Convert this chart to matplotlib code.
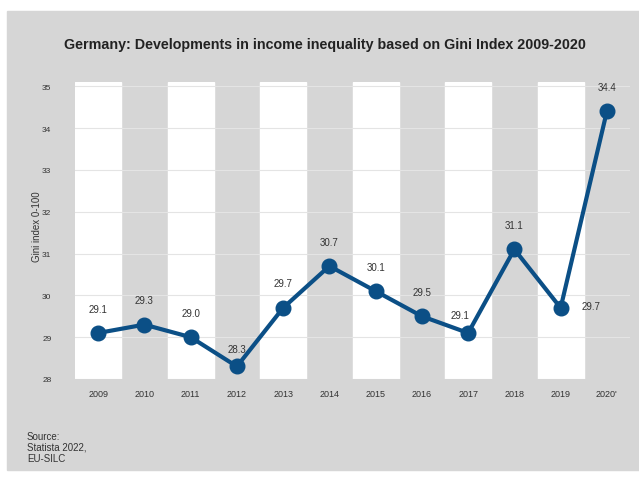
import numpy as np
import matplotlib
matplotlib.use('Agg')
from matplotlib import pyplot as plt
from matplotlib.patches import Rectangle

plt.rcParams['font.family'] = ['Liberation Sans', 'DejaVu Sans']

years = ['2009', '2010', '2011', '2012', '2013', '2014', '2015', '2016',
         '2017', '2018', '2019', '2020\'']
gini = [29.1, 29.3, 29.0, 28.3, 29.7, 30.7, 30.1, 29.5, 29.1, 31.1, 29.7, 34.4]
yticks = [28, 29, 30, 31, 32, 33, 34, 35]

bg = '#d6d6d6'
blue = '#0b4f86'

fig = plt.figure(figsize=(6.39, 4.81), dpi=100)
fig.patches.append(Rectangle((7 / 639, 1 - 471 / 481), 1, 459 / 481,
                             transform=fig.transFigure, color=bg, zorder=-5))

ax = fig.add_axes([75 / 639, 1 - 380 / 481, 555 / 639, 297 / 481])
ax.set_facecolor(bg)
x = np.arange(len(years))

# white bands on every other year
for i in x[::2]:
    ax.axvspan(i - 0.5, i + 0.5, color='white', zorder=0)

for t in yticks:
    ax.axhline(t, color='#e4e4e4', lw=0.8, zorder=1)

ax.plot(x, gini, color=blue, lw=3, marker='o', markersize=10.5, zorder=3)

# label offsets in points (dx, dy)
offs = {3: (0, 9), 8: (-6, 9), 10: (15, 1)}
for i, v in enumerate(gini):
    dx, dy = offs.get(i, (0, 14))
    ha = 'left' if i == 10 else 'center'
    ax.annotate(f'{v:.1f}', (i, v), xytext=(dx, dy), textcoords='offset points',
                ha=ha, va='bottom' if i != 10 else 'center', fontsize=7, color='#333333')

ax.set_xlim(-0.5, len(years) - 0.5)
ax.set_ylim(28, 35.1)
ax.set_xticks(x)
ax.set_xticklabels(years, fontsize=6.5, color='#333333')
ax.set_yticks(yticks)
ax.set_yticklabels([str(t) for t in yticks], fontsize=6, color='#333333')
ax.tick_params(axis='y', length=0, pad=17)
ax.tick_params(axis='x', length=0, pad=7)
for s in ax.spines.values():
    s.set_visible(False)

fig.text(37 / 639, 1 - 227 / 481, 'Gini index 0-100', rotation=90, ha='center',
         va='center', fontsize=7, color='#333333')
fig.text(325 / 639, 1 - 45 / 481,
         'Germany: Developments in income inequality based on Gini Index 2009-2020',
         ha='center', va='center', fontsize=10.3, fontweight='bold', color='#222222')
fig.text(27 / 639, 1 - 432 / 481, 'Source:\nStatista 2022,\nEU-SILC', ha='left',
         va='top', fontsize=7, color='#333333', linespacing=1.1)

plt.savefig('out.png', dpi=100)
